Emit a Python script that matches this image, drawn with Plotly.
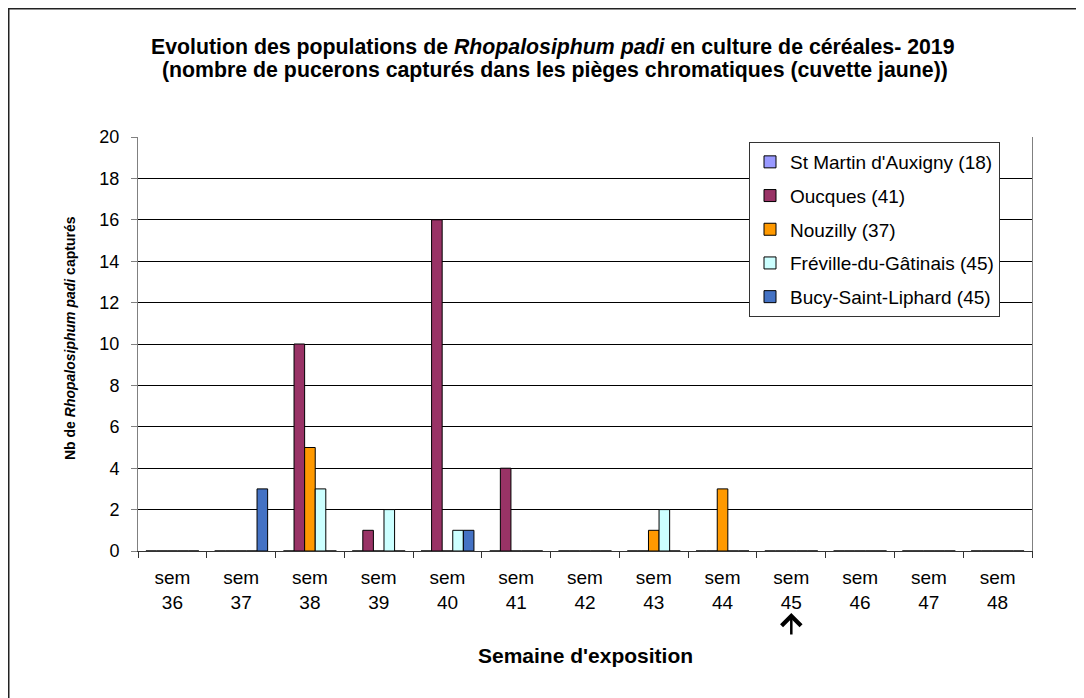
import plotly.graph_objects as go

weeks = ["36", "37", "38", "39", "40", "41", "42", "43", "44", "45", "46", "47", "48"]
categories = ["sem<br>" + w for w in weeks]

series_names = [
    "St Martin d'Auxigny (18)",
    "Oucques (41)",
    "Nouzilly (37)",
    "Fréville-du-Gâtinais (45)",
    "Bucy-Saint-Liphard (45)",
]
st_martin = [0, 0, 0, 0, 0, 0, 0, 0, 0, 0, 0, 0, 0]
oucques = [0, 0, 10, 1, 16, 4, 0, 0, 0, 0, 0, 0, 0]
nouzilly = [0, 0, 5, 0, 0, 0, 0, 1, 3, 0, 0, 0, 0]
freville = [0, 0, 3, 2, 1, 0, 0, 2, 0, 0, 0, 0, 0]
bucy = [0, 3, 0, 0, 1, 0, 0, 0, 0, 0, 0, 0, 0]
series_values = [st_martin, oucques, nouzilly, freville, bucy]
colors = ["#9999FF", "#993366", "#FF9900", "#CCFFFF", "#4472C4"]

FONT = "Liberation Sans, Arial, sans-serif"

fig = go.Figure()
for i, (name, vals, col) in enumerate(zip(series_names, series_values, colors)):
    fig.add_trace(go.Bar(
        x=categories, y=vals, name=name, legendgroup=f"g{i}",
        marker=dict(color=col, line=dict(color="black", width=1)),
    ))

# page has an 8px body margin: figure origin sits at page (8, 8)
OFF = 8
W, H = 1076, 690
L, R, T, B = 130, 52, 129, 147
pw, ph = W - L - R, H - T - B

def px_x(x):
    return (x - OFF - L) / pw

def px_y(y):
    return (H - B - (y - OFF)) / ph

fig.update_layout(
    width=W, height=H,
    margin=dict(l=L, r=R, t=T, b=B, pad=0),
    paper_bgcolor="white", plot_bgcolor="white",
    font=dict(family=FONT, size=18, color="black"),
    barmode="group", bargap=0.23, bargroupgap=0,
    showlegend=True,
    legend=dict(
        x=px_x(749), y=px_y(142), xanchor="left", yanchor="top",
        bgcolor="white", bordercolor="#333333", borderwidth=1,
        font=dict(family=FONT, size=19, color="black"),
        traceorder="grouped", tracegroupgap=6,
        itemwidth=30,
    ),
    xaxis=dict(
        type="category", showgrid=False,
        showline=True, linecolor="#333333", linewidth=1,
        ticks="outside", ticklen=6, tickcolor="#333333", tickson="boundaries",
        tickfont=dict(family=FONT, size=19, color="black"),
        ticklabelstandoff=9,
        mirror=False,
    ),
    yaxis=dict(
        range=[0, 20], dtick=2, tick0=0,
        showgrid=True, gridcolor="black", gridwidth=1,
        showline=True, linecolor="#808080", linewidth=1, mirror=True,
        ticks="outside", ticklen=6, tickcolor="#808080",
        tickfont=dict(family=FONT, size=18, color="black"),
        ticklabelstandoff=8,
        zeroline=False,
    ),
    annotations=[
        dict(
            text="<b>Evolution des populations de <i>Rhopalosiphum padi</i> en culture de céréales- 2019</b>",
            xref="paper", yref="paper", x=px_x(553), y=px_y(47),
            xanchor="center", yanchor="middle", showarrow=False,
            font=dict(family=FONT, size=21.3, color="black"),
        ),
        dict(
            text="<b>(nombre de pucerons capturés dans les pièges chromatiques (cuvette jaune))</b>",
            xref="paper", yref="paper", x=px_x(555), y=px_y(70),
            xanchor="center", yanchor="middle", showarrow=False,
            font=dict(family=FONT, size=21.3, color="black"),
        ),
        dict(
            text="<b>Nb de <i>Rhopalosiphum padi</i> capturés</b>",
            xref="paper", yref="paper", x=px_x(70), y=px_y(338),
            xanchor="center", yanchor="middle", textangle=-90, showarrow=False,
            font=dict(family=FONT, size=14, color="black"),
        ),
        dict(
            text="<b>Semaine d'exposition</b>",
            xref="paper", yref="paper", x=px_x(585.5), y=px_y(655),
            xanchor="center", yanchor="middle", showarrow=False,
            font=dict(family=FONT, size=21, color="black"),
        ),
        dict(
            text="", xref="x", yref="paper", x=9, y=px_y(613),
            showarrow=True, arrowhead=4, arrowsize=1.5, arrowwidth=2.5,
            arrowcolor="black", ax=0, ay=23,
        ),
    ],
    shapes=[
        dict(type="rect", xref="paper", yref="paper",
             x0=(0.75 - L) / pw, x1=px_x(1300), y0=px_y(900), y1=(H - B - 0.75) / ph,
             line=dict(color="#222222", width=1.5), fillcolor="rgba(0,0,0,0)",
             layer="below"),
    ],
)

fig.write_html("out.html")
